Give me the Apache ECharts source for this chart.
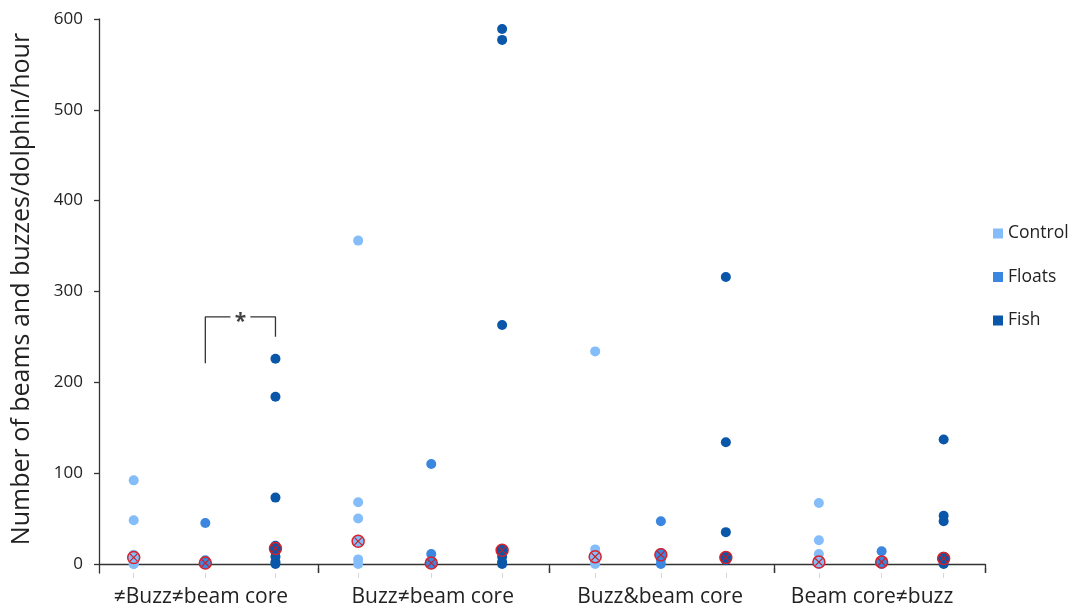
<!DOCTYPE html>
<html>
<head>
<meta charset="utf-8">
<script src="https://cdn.jsdelivr.net/npm/echarts@6/dist/echarts.min.js"></script>
<style>html,body{margin:0;padding:0;background:#fff}#chart{width:1075px;height:613px}</style>
</head>
<body>
<div id="chart"></div>
<script>
// ---------- data ----------
const categories = ['≠Buzz≠beam core', 'Buzz≠beam core', 'Buzz&beam core', 'Beam core≠buzz'];
const seriesNames = ['Control', 'Floats', 'Fish'];
const controlValues = [[92, 48, 10, 2, 0, 0], [356, 68, 50, 5, 0], [234, 16, 8, 2, 0], [67, 26, 11, 2, 0]];
const floatsValues  = [[45, 4, 1, 0, 0], [110, 11, 2, 0], [47, 12, 5, 0], [14, 2, 0]];
const fishValues    = [[226, 184, 73, 20, 14, 8, 2, 0], [589, 577, 263, 15, 8, 2, 0], [316, 134, 35, 8, 4], [137, 53, 47, 8, 3, 0]];
const controlMedian = [7, 25, 8, 2];
const floatsMedian  = [1, 1, 10, 2];
const fishMedian    = [17, 15, 7, 6];
const yTickLabels = [0, 100, 200, 300, 400, 500, 600];
const yTitle = 'Number of beams and buzzes/dolphin/hour';
const significance = { group: 0, from: 1, to: 2, level: 272, leftFoot: 221, rightFoot: 250, label: '*' };

// ---------- layout (x slot positions on a 0..12 axis) ----------
const slotX = [[0.47, 1.44, 2.39], [3.51, 4.50, 5.46], [6.72, 7.61, 8.49], [9.75, 10.60, 11.44]];
const groupBounds = [2.97, 6.10, 9.14, 12];
const labelX = [1.38, 4.52, 7.60, 10.47];
const colors = ['#84BDFA', '#3A86E0', '#0A56A8'];
const FONT = 'Open Sans';

const allValues = [controlValues, floatsValues, fishValues];
const allMedians = [controlMedian, floatsMedian, fishMedian];

const series = [];
allValues.forEach((groups, s) => {
  const data = [];
  groups.forEach((vals, g) => vals.forEach(v => data.push([slotX[g][s], v])));
  series.push({
    name: seriesNames[s], type: 'scatter', symbol: 'circle', symbolSize: 10,
    itemStyle: { color: colors[s], opacity: 1 }, data, z: 2
  });
});
allMedians.forEach((meds, s) => {
  const data = meds.map((v, g) => [slotX[g][s], v]);
  series.push({
    name: seriesNames[s] + ' median', type: 'scatter', symbol: 'circle', symbolSize: 12,
    itemStyle: { color: colors[s], borderColor: '#D9222B', borderWidth: 1.5, opacity: 1 }, data, z: 3, silent: true
  });
  series.push({
    name: seriesNames[s] + ' median x', type: 'scatter',
    symbol: 'path://M0,1 L1,0 L5,4 L9,0 L10,1 L6,5 L10,9 L9,10 L5,6 L1,10 L0,9 L4,5 Z',
    symbolSize: 8, itemStyle: { color: '#C81E28', opacity: 1 }, data, z: 4, silent: true
  });
});

// significance bracket
const g0 = significance.group;
const xa = slotX[g0][significance.from], xb = slotX[g0][significance.to];
const xm = (xa + xb) / 2, gap = 0.135;
const bracketStyle = { color: '#333', width: 1.3 };
series.push({
  type: 'line', silent: true, symbol: 'none', lineStyle: bracketStyle, z: 1,
  data: [[xa, significance.leftFoot], [xa, significance.level], [xm - gap, significance.level]]
});
series.push({
  type: 'line', silent: true, symbol: 'none', lineStyle: bracketStyle, z: 1,
  data: [[xm + gap, significance.level], [xb, significance.level], [xb, significance.rightFoot]]
});
series.push({
  type: 'scatter', silent: true, symbolSize: 0, data: [[xm, significance.level]],
  label: { show: true, position: 'inside', formatter: significance.label, fontSize: 21, fontWeight: 'bold', color: '#111', fontFamily: FONT, offset: [0, 5] }
});

const chart = echarts.init(document.getElementById('chart'), null, { renderer: 'canvas' });
chart.setOption({
  animation: false,
  backgroundColor: '#fff',
  textStyle: { fontFamily: FONT },
  grid: { left: 99, right: 90, top: 19, bottom: 40, containLabel: false },
  graphic: [{
    type: 'text', x: 22, y: 289, rotation: Math.PI / 2, silent: true,
    style: { text: yTitle, fontSize: 25, fontFamily: FONT, fill: '#222', align: 'center', verticalAlign: 'middle' }
  }],
  legend: {
    data: seriesNames, orient: 'vertical', left: 993, top: 223, padding: 0,
    icon: 'rect', itemWidth: 10, itemHeight: 10, itemGap: 22.5,
    textStyle: { fontSize: 17.5, color: '#222', fontFamily: FONT, lineHeight: 21 }
  },
  xAxis: [
    {
      type: 'value', min: 0, max: 12, position: 'bottom',
      axisLine: { show: true, lineStyle: { color: '#333', width: 1.3 } },
      axisTick: { show: true, customValues: groupBounds, length: 9, inside: false, lineStyle: { color: '#333', width: 1.3 } },
      axisLabel: {
        customValues: labelX, margin: 14, fontSize: 21, color: '#222', fontFamily: FONT,
        formatter: v => { let i = 0, d = 1e9; labelX.forEach((p, k) => { if (Math.abs(p - v) < d) { d = Math.abs(p - v); i = k; } }); return categories[i]; }
      },
      splitLine: { show: false }
    },
    {
      type: 'value', min: 0, max: 12, position: 'bottom',
      axisLine: { show: false },
      axisTick: { show: true, customValues: slotX.flat(), length: 5, lineStyle: { color: '#d6d6d6', width: 1 } },
      axisLabel: { show: false }, splitLine: { show: false }
    },
    {
      type: 'value', min: 0, max: 12, position: 'bottom',
      axisLine: { show: false },
      axisTick: { show: true, customValues: groupBounds, length: 5, inside: true, lineStyle: { color: '#333', width: 1.3 } },
      axisLabel: { show: false }, splitLine: { show: false }
    }
  ],
  yAxis: {
    type: 'value', min: -10, max: 600,
    axisLine: { show: true, lineStyle: { color: '#333', width: 1.3 } },
    axisTick: { show: true, customValues: yTickLabels, length: 5, lineStyle: { color: '#333', width: 1.3 } },
    axisLabel: { customValues: yTickLabels, fontSize: 17, margin: 16, color: '#222', fontFamily: FONT },
    splitLine: { show: false }
  },
  series
});
</script>
</body>
</html>
